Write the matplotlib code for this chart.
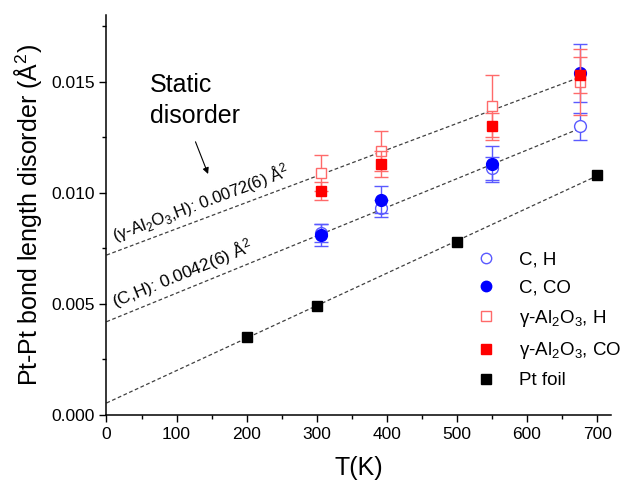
import numpy as np
import matplotlib
matplotlib.use("Agg")
import matplotlib.pyplot as plt
from matplotlib.lines import Line2D
from matplotlib.ticker import MultipleLocator, FormatStrFormatter

plt.rcParams['font.family'] = ['Liberation Sans', 'DejaVu Sans']
plt.rcParams['mathtext.fontset'] = 'custom'
plt.rcParams['mathtext.rm'] = 'Liberation Sans'
plt.rcParams['mathtext.it'] = 'Liberation Sans:italic'
plt.rcParams['mathtext.bf'] = 'Liberation Sans:bold'

# ---- data ----
T_cat = [306, 392, 550, 676]
ch_y = [0.0082, 0.0093, 0.0111, 0.0130]
ch_err = [0.0004, 0.0004, 0.0005, 0.0006]
cco_y = [0.0081, 0.0097, 0.0113, 0.0154]
cco_err = [0.0005, 0.0006, 0.0008, 0.0013]
alh_y = [0.0109, 0.0119, 0.0139, 0.0150]
alh_err = [0.0008, 0.0009, 0.0014, 0.0015]
alco_y = [0.0101, 0.0113, 0.0130, 0.0153]
alco_err = [0.0004, 0.0006, 0.0006, 0.0008]
T_foil = [200, 300, 500, 700]
foil_y = [0.0035, 0.0049, 0.0078, 0.0108]

ch_intercept = 0.0042
alh_intercept = 0.0072

labels = ['C, H', 'C, CO', 'γ-Al$_2$O$_3$, H', 'γ-Al$_2$O$_3$, CO', 'Pt foil']

fig = plt.figure(figsize=(6.3, 4.9), dpi=100)
ax = fig.add_axes([0.169, 0.153, 0.801, 0.816])

Tc = np.array(T_cat, float)
# fits
def fixed_fit(x, y, b):
    x = np.asarray(x, float); y = np.asarray(y, float)
    return np.sum(x * (y - b)) / np.sum(x * x)

s_alh = fixed_fit(T_cat, alh_y, alh_intercept)
s_ch = fixed_fit(T_cat, ch_y, ch_intercept)
pf = np.polyfit(T_foil, foil_y, 1)

dash = dict(color='#404040', lw=0.9, ls=(0, (3, 2)), zorder=1)
xa = np.array([0, Tc[-1]])
ax.plot(xa, alh_intercept + s_alh * xa, **dash)
ax.plot(xa, ch_intercept + s_ch * xa, **dash)
xf = np.array([0, T_foil[-1]])
ax.plot(xf, np.polyval(pf, xf), **dash)

blue = '#0000ff'
red = '#ff0000'
eb_blue = '#5a5aff'
eb_red = '#ff6a6a'
ms_c = 8.5
ms_s = 7.5
ax.errorbar(T_cat, ch_y, yerr=ch_err, fmt='o', ms=ms_c, mfc='white', mec=eb_blue,
            mew=1.0, ecolor=eb_blue, elinewidth=1.0, capsize=5, capthick=1.0, zorder=3)
ax.errorbar(T_cat, cco_y, yerr=cco_err, fmt='o', ms=ms_c, mfc=blue, mec=blue,
            ecolor=eb_blue, elinewidth=1.0, capsize=5, capthick=1.0, zorder=4)
ax.errorbar(T_cat, alh_y, yerr=alh_err, fmt='s', ms=ms_s, mfc='white', mec=eb_red,
            mew=1.0, ecolor=eb_red, elinewidth=1.0, capsize=5, capthick=1.0, zorder=5)
ax.errorbar(T_cat, alco_y, yerr=alco_err, fmt='s', ms=ms_s, mfc=red, mec=red,
            ecolor=eb_red, elinewidth=1.0, capsize=5, capthick=1.0, zorder=6)
ax.plot(T_foil, foil_y, 's', ms=7, mfc='black', mec='black', zorder=6)

ax.set_xlim(0, 720)
ax.set_ylim(0, 0.018)
ax.spines['top'].set_visible(False)
ax.spines['right'].set_visible(False)
ax.xaxis.set_major_locator(MultipleLocator(100))
ax.xaxis.set_minor_locator(MultipleLocator(50))
ax.yaxis.set_major_locator(MultipleLocator(0.005))
ax.yaxis.set_minor_locator(MultipleLocator(0.0025))
ax.yaxis.set_major_formatter(FormatStrFormatter('%.3f'))
ax.tick_params(which='major', direction='out', length=5, width=1, labelsize=12.5)
ax.tick_params(which='minor', direction='out', length=3, width=1)
for sp in ax.spines.values():
    sp.set_linewidth(1.1)

ax.set_xlabel('T(K)', fontsize=18, labelpad=10)
ax.set_ylabel('Pt-Pt bond length disorder (Å$^2$)', fontsize=18, labelpad=5)

# legend
handles = [
    Line2D([], [], ls='none', marker='o', ms=7.5, mfc='white', mec=eb_blue, mew=1.0),
    Line2D([], [], ls='none', marker='o', ms=7.5, mfc=blue, mec=blue),
    Line2D([], [], ls='none', marker='s', ms=6.5, mfc='white', mec=eb_red, mew=1.0),
    Line2D([], [], ls='none', marker='s', ms=6.5, mfc=red, mec=red),
    Line2D([], [], ls='none', marker='s', ms=6.5, mfc='black', mec='black'),
]
ax.legend(handles, labels, loc='upper left', bbox_to_anchor=(0.733, 0.41),
          borderaxespad=0, borderpad=0,
          frameon=False, fontsize=13.5, handlelength=1.0, handletextpad=1.25,
          labelspacing=0.6)

# annotations
fig.canvas.draw()
def angle_of(slope):
    p0 = ax.transData.transform((0, 0))
    p1 = ax.transData.transform((100, 100 * slope))
    return np.degrees(np.arctan2(p1[1] - p0[1], p1[0] - p0[0]))

ax.text(12, alh_intercept + s_alh * 12 + 0.00045, '(γ-Al$_2$O$_3$,H): 0.0072(6) Å$^2$',
        rotation=angle_of(s_alh), rotation_mode='anchor', fontsize=12,
        ha='left', va='baseline')
ax.text(12, ch_intercept + s_ch * 12 + 0.00045, '(C,H): 0.0042(6) Å$^2$',
        rotation=angle_of(s_ch), rotation_mode='anchor', fontsize=12.5,
        ha='left', va='baseline')

ax.text(62, 0.01415, 'Static\ndisorder', fontsize=18, ha='left', va='center',
        linespacing=1.35)
ax.annotate('', xy=(145, 0.01085), xytext=(127, 0.0123),
            arrowprops=dict(arrowstyle='-|>', color='black', lw=0.8,
                            mutation_scale=9, shrinkA=0, shrinkB=0))

fig.savefig('out.png', dpi=100)
